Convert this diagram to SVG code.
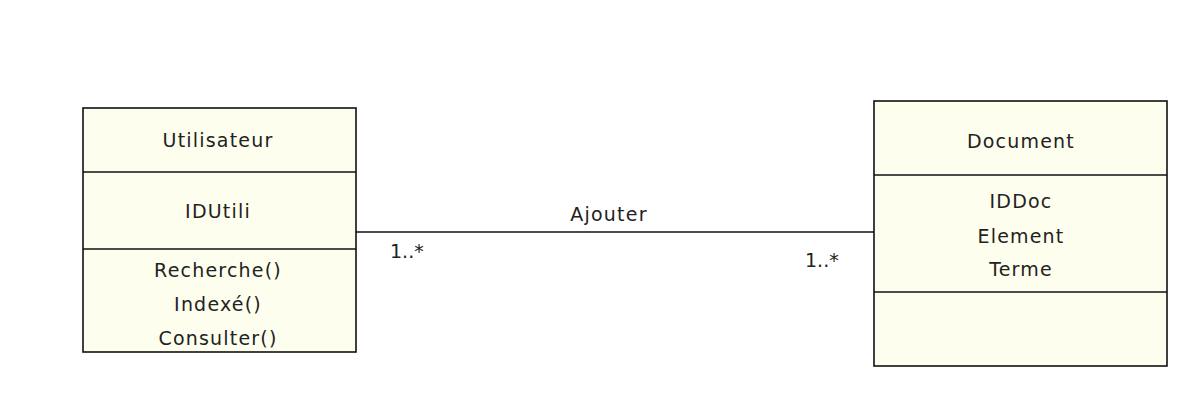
<svg xmlns="http://www.w3.org/2000/svg" width="1181" height="418" viewBox="0 0 1181 418">
<style>
.box{fill:#fefeee;stroke:#111;stroke-width:1.6}
.div{stroke:#111;stroke-width:1.6}
text{font-family:"DejaVu Sans","Liberation Sans",sans-serif;font-size:19px;letter-spacing:1.2px;fill:#222;text-anchor:middle}
.conn{stroke:#111;stroke-width:1.6;fill:none}
.mult{text-anchor:start;letter-spacing:0}
</style>
<rect width="1181" height="418" fill="#ffffff"/>
<g id="utilisateur">
<rect class="box" x="83" y="108" width="273" height="244"/>
<line class="div" x1="83" y1="172" x2="356" y2="172"/>
<line class="div" x1="83" y1="249" x2="356" y2="249"/>
<text x="218" y="147">Utilisateur</text>
<text x="218" y="218">IDUtili</text>
<text x="218" y="277">Recherche()</text>
<text x="218" y="311">Indexé()</text>
<text x="218" y="345">Consulter()</text>
</g>
<g id="document">
<rect class="box" x="874" y="101" width="293" height="265"/>
<line class="div" x1="874" y1="175" x2="1167" y2="175"/>
<line class="div" x1="874" y1="292" x2="1167" y2="292"/>
<text x="1021" y="148">Document</text>
<text x="1021" y="208">IDDoc</text>
<text x="1021" y="243">Element</text>
<text x="1021" y="276">Terme</text>
</g>
<g id="connectors">
<line class="conn" x1="356" y1="232" x2="874" y2="232"/>
<text x="609" y="221">Ajouter</text>
<text class="mult" x="390" y="258">1..*</text>
<text class="mult" x="805" y="267">1..*</text>
</g>
</svg>
